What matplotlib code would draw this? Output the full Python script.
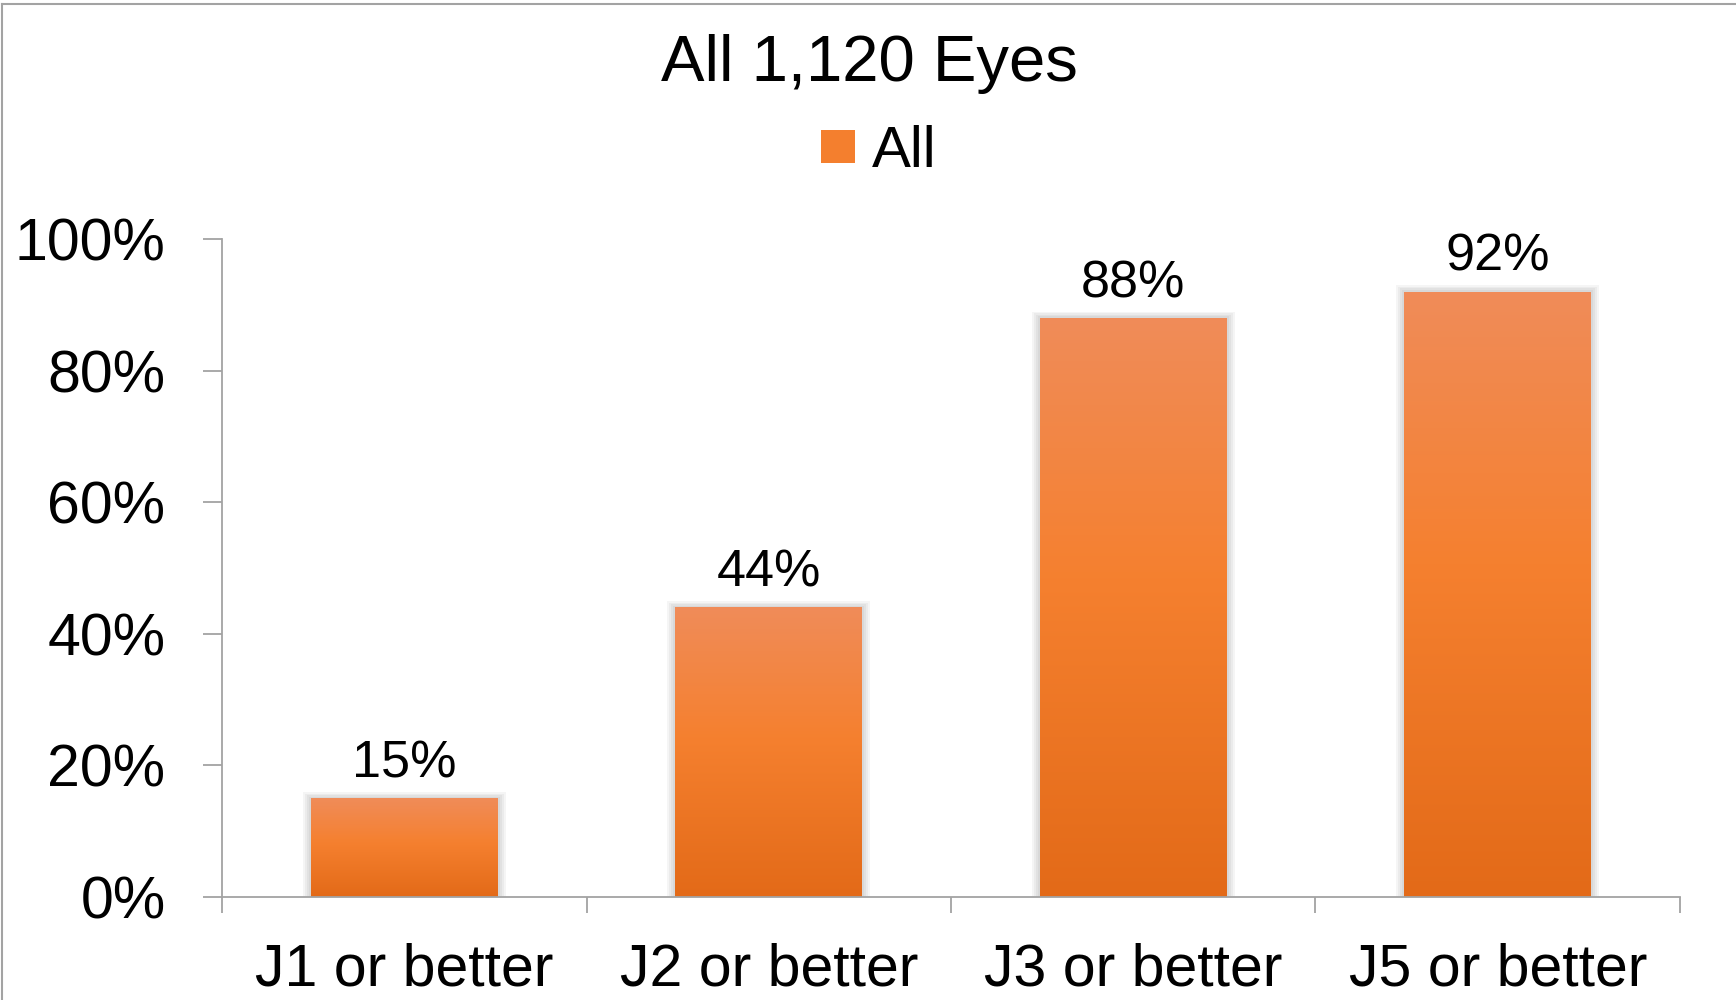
import matplotlib.pyplot as plt
import numpy as np
from matplotlib.colors import LinearSegmentedColormap
from matplotlib.lines import Line2D
from matplotlib.patches import Patch, Rectangle
from matplotlib.ticker import PercentFormatter

plt.rcParams['font.family'] = ['Liberation Sans', 'DejaVu Sans']

title = 'All 1,120 Eyes'
series_name = 'All'
categories = ['J1 or better', 'J2 or better', 'J3 or better', 'J5 or better']
percents = [15, 44, 88, 92]

# vertical gradient used on each bar, top -> bottom
orange = LinearSegmentedColormap.from_list(
    'orange_fade', [(0.0, '#F08C59'), (0.45, '#F5802F'), (1.0, '#E36A18')])
axis_gray = '#A3A3A3'

fig = plt.figure(figsize=(17.36, 10), dpi=100)
ax = fig.add_axes([0.1279, 0.103, 0.8398, 0.658])

x = np.arange(len(categories))
heights = np.array(percents) / 100
bar_w = 0.513
bars = ax.bar(x, heights, width=bar_w, color='#F47F2E', zorder=3)

ax.set_xlim(-0.5, len(categories) - 0.5)
ax.set_ylim(0, 1)

# soft drop shadow: a few faint, slightly wider rectangles under each bar
dx = ax.transData.inverted().transform([(0, 0), (1, 1)])
px_x = abs(dx[1][0] - dx[0][0])
px_y = abs(dx[1][1] - dx[0][1])
for b in bars:
    for grow in (2, 4, 6, 8):
        ax.add_patch(Rectangle((b.get_x() - grow * px_x, 0),
                               b.get_width() + 2 * grow * px_x,
                               b.get_height() + grow * px_y * 0.8,
                               facecolor='black', alpha=0.04,
                               linewidth=0, zorder=2))

# fill each bar with the gradient, clipped to the bar shape
grad = np.linspace(0, 1, 256).reshape(-1, 1)
for b in bars:
    im = ax.imshow(grad, cmap=orange, aspect='auto', zorder=4,
                   extent=[b.get_x(), b.get_x() + b.get_width(), 0, b.get_height()],
                   origin='upper', interpolation='bicubic')
    im.set_clip_path(b)
ax.set_xlim(-0.5, len(categories) - 0.5)
ax.set_ylim(0, 1)

ax.bar_label(bars, labels=[f'{p}%' for p in percents], padding=7,
             fontsize=37.5, zorder=5)

# axes styling
for side in ('top', 'right'):
    ax.spines[side].set_visible(False)
for side in ('left', 'bottom'):
    ax.spines[side].set_color(axis_gray)
    ax.spines[side].set_linewidth(1.3)
    ax.spines[side].set_zorder(6)

ax.set_yticks(np.arange(0, 1.01, 0.2))
ax.yaxis.set_major_formatter(PercentFormatter(xmax=1, decimals=0))
ax.tick_params(axis='y', length=13.7, width=1.3, color=axis_gray,
               pad=27, labelsize=42.5)

ax.set_xticks(x)
ax.set_xticklabels(categories)
ax.set_xticks(np.arange(-0.5, len(categories)), minor=True)
ax.tick_params(axis='x', which='major', length=0, pad=33, labelsize=42.5)
ax.tick_params(axis='x', which='minor', length=11.5, width=1.3, color=axis_gray)

fig.text(0.501, 0.919, title, ha='center', va='baseline', fontsize=47)

ax.legend(handles=[Patch(facecolor='#F47F2E', label=series_name)],
          loc='center', bbox_to_anchor=(0.5064, 0.848),
          bbox_transform=fig.transFigure, frameon=False, fontsize=42,
          handlelength=0.57, handleheight=0.5, handletextpad=0.3)

# thin frame drawn along the top and left edge of the canvas
fig.add_artist(Line2D([0.0009, 0.0009], [0, 0.9965], color=axis_gray,
                      linewidth=1.5, transform=fig.transFigure))
fig.add_artist(Line2D([0.0009, 1], [0.9965, 0.9965], color=axis_gray,
                      linewidth=1.5, transform=fig.transFigure))

fig.savefig('out.png', dpi=100)
